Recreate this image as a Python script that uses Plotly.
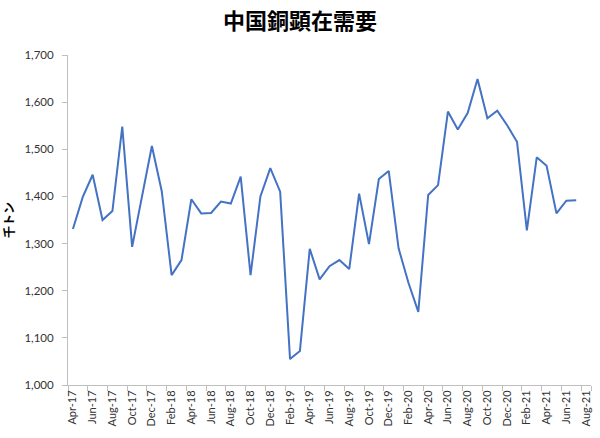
import plotly.graph_objects as go

months = ["Apr-17","May-17","Jun-17","Jul-17","Aug-17","Sep-17","Oct-17","Nov-17","Dec-17",
          "Jan-18","Feb-18","Mar-18","Apr-18","May-18","Jun-18","Jul-18","Aug-18","Sep-18","Oct-18","Nov-18","Dec-18",
          "Jan-19","Feb-19","Mar-19","Apr-19","May-19","Jun-19","Jul-19","Aug-19","Sep-19","Oct-19","Nov-19","Dec-19",
          "Jan-20","Feb-20","Mar-20","Apr-20","May-20","Jun-20","Jul-20","Aug-20","Sep-20","Oct-20","Nov-20","Dec-20",
          "Jan-21","Feb-21","Mar-21","Apr-21","May-21","Jun-21","Jul-21","Aug-21"]

demand = [1331, 1399, 1446, 1350, 1369, 1548, 1293, 1400, 1507,
          1411, 1233, 1265, 1394, 1364, 1365, 1389, 1385, 1442, 1233, 1400, 1460,
          1410, 1055, 1072, 1289, 1224, 1252, 1265, 1246, 1406, 1299, 1437, 1454,
          1290, 1217, 1155, 1403, 1424, 1580, 1542, 1577, 1649, 1566, 1582, 1551,
          1516, 1328, 1483, 1465, 1364, 1391, 1392]

tick_labels = months[::2]

fig = go.Figure()
fig.add_trace(go.Scatter(
    x=months[:len(demand)], y=demand, mode="lines",
    line=dict(color="#4472C4", width=2),
    showlegend=False,
))

fig.update_layout(
    width=600, height=438,
    margin=dict(l=68, r=9, t=55, b=53, autoexpand=False),
    paper_bgcolor="white", plot_bgcolor="white",
    title=dict(text="<b>中国銅顕在需要</b>", x=0.5, xanchor="center", y=0.952, yanchor="middle",
               font=dict(family="Noto Sans CJK JP", size=22, color="#000000")),
    font=dict(family="Lato, Noto Sans", color="#333333"),
)

fig.update_xaxes(
    type="category", categoryorder="array", categoryarray=months,
    range=[-0.5, len(months) - 0.5], automargin=False,
    tickmode="array", tickvals=tick_labels, ticktext=tick_labels,
    tickson="boundaries", ticks="outside", ticklen=5, tickcolor="#BFBFBF",
    tickangle=-90, tickfont=dict(size=11, color="#333333"),
    showline=True, linecolor="#BFBFBF", linewidth=1,
    showgrid=False, zeroline=False,
)

fig.update_yaxes(
    range=[1000, 1700], dtick=100, tick0=1000, tickformat=",", automargin=False,
    ticks="outside", ticklen=5, tickcolor="#BFBFBF", ticklabelstandoff=6,
    tickfont=dict(size=11.5, color="#333333"),
    showline=True, linecolor="#BFBFBF", linewidth=1,
    showgrid=False, zeroline=False,
    title=dict(text="<b>千トン</b>", font=dict(family="Noto Sans CJK JP", size=12, color="#000000"), standoff=12),
)

fig.write_html("out.html", config={"displayModeBar": False},
               post_script="document.body.style.margin='0';")
